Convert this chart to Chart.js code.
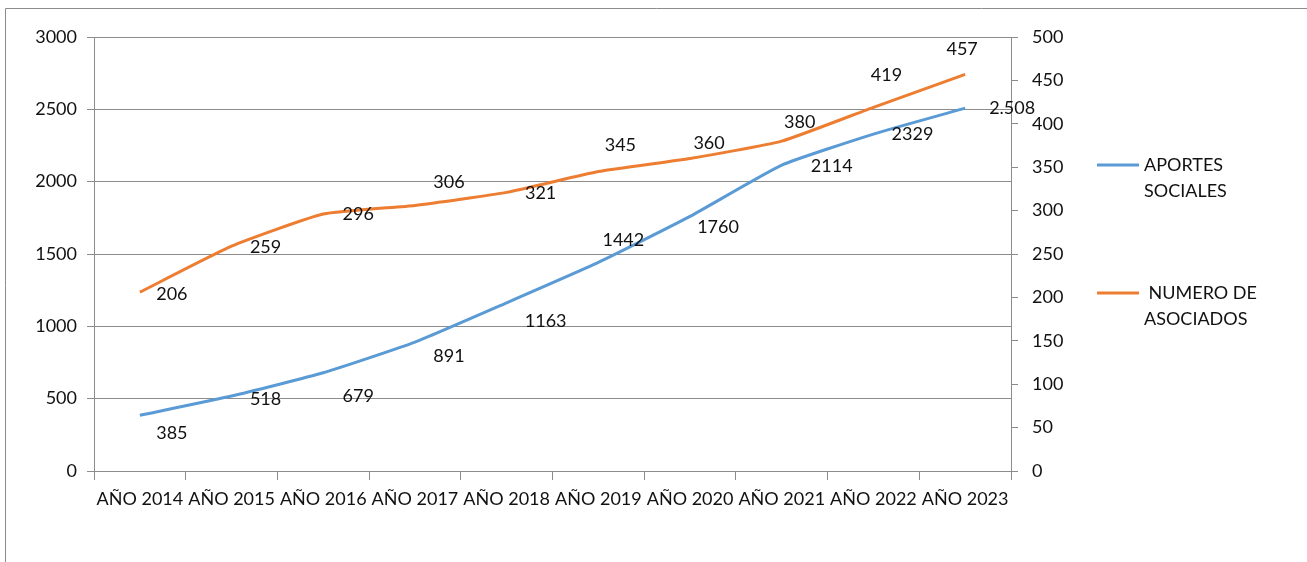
<!DOCTYPE html>
<html>
<head>
<meta charset="utf-8">
<script src="https://cdn.jsdelivr.net/npm/chart.js@4/dist/chart.umd.min.js"></script>
<style>
  html, body { margin: 0; padding: 0; background: #fff; }
  #wrap { width: 1307px; height: 562px; position: relative; }
</style>
</head>
<body>
<div id="wrap"><canvas id="chart"></canvas></div>
<script>
// categories and series
const years = ['AÑO 2014', 'AÑO 2015', 'AÑO 2016', 'AÑO 2017', 'AÑO 2018', 'AÑO 2019', 'AÑO 2020', 'AÑO 2021', 'AÑO 2022', 'AÑO 2023'];
const aportes = [385, 518, 679, 891, 1163, 1442, 1760, 2114, 2329, 2508];
const asociados = [206, 259, 296, 306, 321, 345, 360, 380, 419, 457];
const aportesText = ['385', '518', '679', '891', '1163', '1442', '1760', '2114', '2329', '2.508'];

// where each value label sits relative to its point (dx, dy)
const aportesOffsets = [[32, 18], [34, 3], [35, 23], [34, 14], [39, 18], [25, -22], [28, 11], [50, 1], [39, 0], [47, 0]];
const asociadosOffsets = [[32, 2], [34, 1], [35, 0], [34, -23], [34, 1], [22, -26], [19, -15], [18, -19], [13, -32], [-3, -25]];

const FONT = 'Lato, "Open Sans", sans-serif';
const BLUE = '#5B9BD5';
const ORANGE = '#ED7D31';

// value labels next to the points
const valueLabels = {
    id: 'valueLabels',
    afterDatasetsDraw(chart) {
        const ctx = chart.ctx;
        ctx.save();
        ctx.font = '18px ' + FONT;
        ctx.fillStyle = '#111';
        ctx.textAlign = 'center';
        ctx.textBaseline = 'middle';
        const sets = [[0, aportesText, aportesOffsets], [1, asociados.map(String), asociadosOffsets]];
        sets.forEach(([i, texts, offs]) => {
            chart.getDatasetMeta(i).data.forEach((pt, j) => {
                ctx.fillText(texts[j], pt.x + offs[j][0], pt.y + offs[j][1]);
            });
        });
        ctx.restore();
    }
};

// legend on the right with wrapped labels + outer frame
const sideLegend = {
    id: 'sideLegend',
    afterDraw(chart) {
        const ctx = chart.ctx;
        ctx.save();
        // frame
        ctx.strokeStyle = '#8c8c8c';
        ctx.lineWidth = 1;
        ctx.beginPath();
        ctx.moveTo(5.5, 562);
        ctx.lineTo(5.5, 8.5);
        ctx.lineTo(1307, 8.5);
        ctx.stroke();

        const items = [
            { color: BLUE, lines: ['APORTES', 'SOCIALES'], y: 165 },
            { color: ORANGE, lines: [' NUMERO DE', 'ASOCIADOS'], y: 293 }
        ];
        ctx.font = '18px ' + FONT;
        ctx.fillStyle = '#111';
        ctx.textBaseline = 'middle';
        ctx.textAlign = 'left';
        items.forEach(it => {
            ctx.strokeStyle = it.color;
            ctx.lineWidth = 3;
            ctx.beginPath();
            ctx.moveTo(1097, it.y);
            ctx.lineTo(1139, it.y);
            ctx.stroke();
            it.lines.forEach((t, k) => ctx.fillText(t, 1144, it.y + k * 26));
        });
        ctx.restore();
    }
};

new Chart(document.getElementById('chart'), {
    type: 'line',
    data: {
        labels: years,
        datasets: [
            {
                label: 'APORTES SOCIALES',
                data: aportes,
                borderColor: BLUE,
                borderWidth: 3,
                pointRadius: 0,
                tension: 0.15,
                yAxisID: 'y'
            },
            {
                label: 'NUMERO DE ASOCIADOS',
                data: asociados,
                borderColor: ORANGE,
                borderWidth: 3,
                pointRadius: 0,
                tension: 0.15,
                yAxisID: 'y1'
            }
        ]
    },
    options: {
        responsive: true,
        maintainAspectRatio: false,
        animation: false,
        layout: { padding: { top: 37, right: 216, left: 0, bottom: 0 } },
        plugins: {
            legend: { display: false },
            tooltip: { enabled: false }
        },
        scales: {
            x: {
                offset: true,
                grid: { offset: true, drawOnChartArea: false, color: '#8c8c8c', tickLength: 9 },
                border: { color: '#8c8c8c' },
                ticks: { color: '#111', font: { family: FONT, size: 18 }, maxRotation: 0, autoSkip: false, padding: 8 },
                afterFit(s) { s.height = 91; }
            },
            y: {
                position: 'left',
                min: 0, max: 3000,
                ticks: { stepSize: 500, color: '#111', font: { family: FONT, size: 18 }, padding: 10, callback: v => String(v) },
                grid: { color: '#8c8c8c', tickLength: 7 },
                border: { color: '#8c8c8c' },
                afterFit(s) { s.width = 94; }
            },
            y1: {
                position: 'right',
                min: 0, max: 500,
                ticks: { stepSize: 50, color: '#111', font: { family: FONT, size: 18 }, padding: 14, callback: v => String(v) },
                grid: { drawOnChartArea: false, color: '#8c8c8c', tickLength: 7 },
                border: { color: '#8c8c8c' },
                afterFit(s) { s.width = 80; }
            }
        }
    },
    plugins: [valueLabels, sideLegend]
});
</script>
</body>
</html>
